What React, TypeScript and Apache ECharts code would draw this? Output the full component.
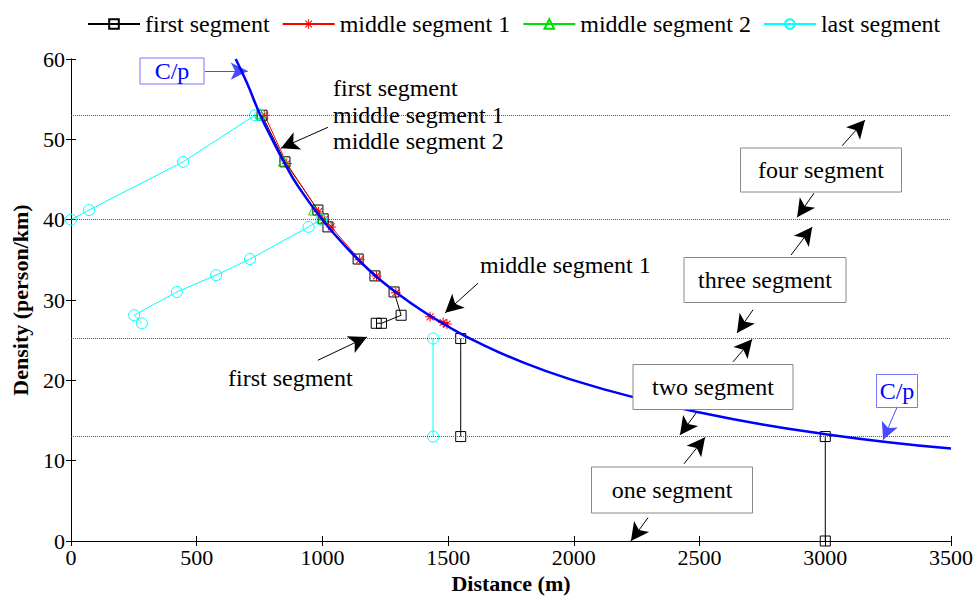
import React, { useEffect, useRef } from "react";
import * as echarts from "echarts";

// ---- data ----
const xTicks = [0, 500, 1000, 1500, 2000, 2500, 3000, 3500];
const yTicks = [0, 10, 20, 30, 40, 50, 60];
const levels = [53, 40, 25.2, 13];

const firstSegA = [[760, 53], [851, 47.2], [982, 41.2], [1003, 40.1], [1022, 39.1], [1142, 35.1], [1209, 33], [1285, 31], [1313, 28.1], [1235, 27.1], [1214, 27.1]];
const firstSegB = [[1550, 25.2], [1550, 13]];
const firstSegC = [[3000, 13], [3000, 0]];
const middle1 = [[770, 53], [858, 47], [985, 41], [1008, 40], [1035, 39.1], [1148, 35], [1215, 33], [1292, 30.9], [1428, 27.9], [1480, 27.2], [1495, 27]];
const middle2 = [[752, 53.2], [845, 47.3], [965, 41.2], [1000, 40.2]];
const lastSegA = [[0, 40], [72, 41.2], [446, 47.2], [732, 53], [752, 53]];
const lastSegB = [[282, 27.1], [251, 28.1], [421, 31], [577, 33.1], [712, 35.1], [945, 39.1], [995, 40]];
const lastSegC = [[1440, 25.2], [1440, 13]];
const cpCurve = [[655, 60], [700, 57], [753, 53], [800, 50], [850, 47], [900, 44.3], [1000, 40], [1100, 36.4], [1200, 33.3], [1300, 30.8], [1400, 28.6], [1500, 26.7], [1600, 25], [1800, 22.2], [2000, 20], [2250, 17.8], [2500, 16], [2750, 14.5], [3000, 13.3], [3250, 12.3], [3500, 11.5]];

// annotation arrows: [tail, tip] in data coords
const blackArrows = [
  [[1022, 51.5], [835, 48.9]],
  [[1619, 32.1], [1488, 28.4]],
  [[982, 22.5], [1177, 25.4]],
  [[3067, 49.2], [3158, 52.4]],
  [[2955, 43.3], [2888, 40.3]],
  [[2864, 35.6], [2948, 39.1]],
  [[2713, 28.8], [2649, 25.9]],
  [[2633, 22.3], [2709, 25.1]],
  [[2490, 16.1], [2422, 13.2]],
  [[2438, 9.6], [2522, 12.9]],
  [[2295, 2.9], [2227, 0]],
];
const blueArrows = [
  [[533, 58.5], [703, 58.5]],
  [[3286, 16.7], [3230, 12.6]],
];

const FONT = "Liberation Serif";
const STAR = "path://M4.5,0h1v10h-1z M0,4.5h10v1h-10z M1.2,1.9L1.9,1.2L8.8,8.1L8.1,8.8z M8.1,1.2L8.8,1.9L1.9,8.8L1.2,8.1z";

function seg(name: string, data: number[][], color: string, symbol: string, size: number, filled = false) {
  return {
    type: "line",
    name,
    data,
    symbol,
    symbolSize: size,
    showAllSymbol: true,
    lineStyle: { color, width: 1 },
    itemStyle: filled
      ? { color, borderWidth: 0 }
      : { color: "rgba(255,255,255,0)", borderColor: color, borderWidth: 1 },
    emphasis: { disabled: true },
    z: 3,
  };
}

function arrowLines(arrows: number[][][], size: number[]) {
  return arrows.map((a) => [
    { coord: a[0], symbol: "none" },
    { coord: a[1], symbol: "arrow", symbolSize: size },
  ]);
}

function box(cx: number, cy: number, w: number, h: number, text: string, color: string, stroke: string) {
  return {
    type: "group",
    children: [
      {
        type: "rect",
        shape: { x: cx - w / 2, y: cy - h / 2, width: w, height: h },
        style: { fill: "#fff", stroke, lineWidth: 1 },
        z: 10,
      },
      {
        type: "text",
        x: cx,
        y: cy,
        style: { text, fill: color, fontFamily: FONT, fontSize: 24, align: "center", verticalAlign: "middle" },
        z: 11,
      },
    ],
  };
}

function label(x: number, y: number, text: string) {
  return {
    type: "text",
    x,
    y,
    style: { text, fill: "#000", fontFamily: FONT, fontSize: 24, align: "left", verticalAlign: "middle" },
    z: 11,
  };
}

export default function App() {
  const ref = useRef<HTMLDivElement>(null);
  useEffect(() => {
    if (!ref.current) return;
    const chart = echarts.init(ref.current, undefined, { renderer: "svg" });
    const axisCommon = {
      type: "value",
      axisLine: { show: true, lineStyle: { color: "#000", width: 1 } },
      axisTick: { show: true, inside: true, length: 5, lineStyle: { color: "#000" } },
      splitLine: { show: false },
    };
    const nameStyle = { fontFamily: FONT, fontSize: 22, fontWeight: "bold", color: "#000" };
    const tickStyle = { fontFamily: FONT, fontSize: 22, color: "#000" };
    chart.setOption({
      animation: false,
      backgroundColor: "#fff",
      textStyle: { fontFamily: FONT },
      grid: { left: 71, top: 59, width: 880, height: 482, containLabel: false, outerBoundsMode: "none" },
      legend: {
        data: ["first segment", "middle segment 1", "middle segment 2", "last segment"],
        left: 87,
        top: 12,
        padding: 0,
        itemWidth: 52,
        itemHeight: 12,
        itemGap: 12,
        textStyle: { fontFamily: FONT, fontSize: 24, color: "#000" },
        selectedMode: false,
      },
      xAxis: [
        {
          ...axisCommon,
          min: 0,
          max: 3500,
          interval: 500,
          name: "Distance (m)",
          nameLocation: "middle",
          nameGap: 30,
          nameTextStyle: nameStyle,
          axisLabel: { ...tickStyle, margin: 5, formatter: (v: number) => (xTicks.includes(v) ? String(v) : "") },
        },
        { ...axisCommon, position: "top", min: 0, max: 3500, interval: 500, axisLabel: { show: false } },
      ],
      yAxis: [
        {
          ...axisCommon,
          min: 0,
          max: 60,
          interval: 10,
          name: "Density (person/km)",
          nameLocation: "middle",
          nameGap: 40,
          nameTextStyle: nameStyle,
          axisLabel: { ...tickStyle, margin: 6, formatter: (v: number) => (yTicks.includes(v) ? String(v) : "") },
        },
        { ...axisCommon, position: "right", min: 0, max: 60, interval: 10, axisLabel: { show: false } },
      ],
      series: [
        {
          type: "line",
          name: "levels",
          data: [],
          silent: true,
          markLine: {
            silent: true,
            symbol: "none",
            label: { show: false },
            lineStyle: { color: "#555", type: "dotted", width: 1 },
            data: levels.map((v) => ({ yAxis: v })),
          },
          z: 1,
        },
        seg("first segment", firstSegA, "#000", "rect", 10),
        seg("first segment", firstSegB, "#000", "rect", 10),
        seg("first segment", firstSegC, "#000", "rect", 10),
        seg("middle segment 1", middle1, "#ff0000", STAR, 10, true),
        seg("middle segment 2", middle2, "#00e000", "triangle", 10),
        seg("last segment", lastSegA, "#00ffff", "circle", 11),
        seg("last segment", lastSegB, "#00ffff", "circle", 11),
        seg("last segment", lastSegC, "#00ffff", "circle", 11),
        {
          type: "line",
          name: "C/p",
          data: cpCurve,
          smooth: true,
          symbol: "none",
          lineStyle: { color: "#0000ff", width: 2.5 },
          z: 5,
        },
        {
          type: "line",
          name: "arrows",
          data: [],
          silent: true,
          markLine: {
            silent: true,
            label: { show: false },
            lineStyle: { color: "#000", type: "solid", width: 1 },
            itemStyle: { color: "#000" },
            data: arrowLines(blackArrows, [14, 18]),
          },
          z: 6,
        },
        {
          type: "line",
          name: "blueArrows",
          data: [],
          silent: true,
          markLine: {
            silent: true,
            label: { show: false },
            lineStyle: { color: "#4a4aff", type: "solid", width: 1 },
            itemStyle: { color: "#0000ff" },
            data: arrowLines(blueArrows, [13, 17]),
          },
          z: 6,
        },
      ],
      graphic: [
        box(172, 71, 64, 26, "C/p", "#0000ff", "#7777ff"),
        box(897, 391, 41, 33, "C/p", "#0000ff", "#7777ff"),
        box(821, 170, 161, 44, "four segment", "#000", "#888"),
        box(765, 280, 162, 45, "three segment", "#000", "#888"),
        box(713, 387, 160, 45, "two segment", "#000", "#888"),
        box(672, 490, 161, 46, "one segment", "#000", "#888"),
        label(333, 88, "first segment"),
        label(333, 115, "middle segment 1"),
        label(333, 141, "middle segment 2"),
        label(480, 265, "middle segment 1"),
        label(228, 378, "first segment"),
      ],
    });
    return () => chart.dispose();
  }, []);
  return <div ref={ref} style={{ width: 977, height: 601, position: "absolute", left: 0, top: 0 }} />;
}
